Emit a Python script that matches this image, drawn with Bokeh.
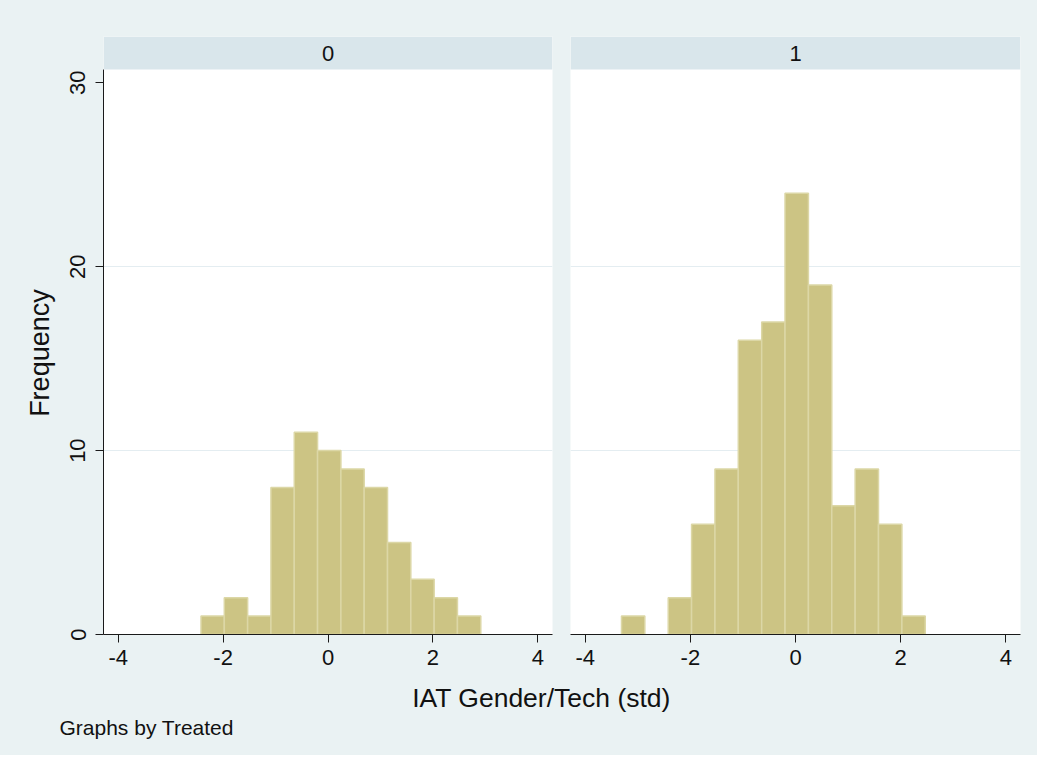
import math
from bokeh.plotting import figure
from bokeh.models import Range1d, BoxAnnotation, Label, FixedTicker, Grid
from bokeh.layouts import column, row
from bokeh.embed import file_html
from bokeh.resources import INLINE

# ---- data ----
bin_edges = [-3.31, -2.866, -2.421, -1.977, -1.532, -1.088, -0.643, -0.199,
             0.246, 0.690, 1.135, 1.579, 2.024, 2.468, 2.913]
counts_treated0 = [0, 0, 1, 2, 1, 8, 11, 10, 9, 8, 5, 3, 2, 1]
counts_treated1 = [1, 0, 2, 6, 9, 16, 17, 24, 19, 7, 9, 6, 1, 0]
panel_labels = ["0", "1"]
x_ticks = [-4, -2, 0, 2, 4]
x_tick_labels = ["-4", "-2", "0", "2", "4"]
y_ticks = [0, 10, 20, 30]
grid_ticks = [10, 20]
x_title = "IAT Gender/Tech (std)"
y_title = "Frequency"
note = "Graphs by Treated"

# ---- styles ----
BG = "#EAF2F3"
STRIP = "#D9E6EB"
GRID = "#E4EDF1"
BAR_FILL = "#CCC484"
BAR_LINE = "#DCD7A6"
FONT = "Liberation Sans"
AXIS_COLOR = "#1a1a1a"
TXT = "#111111"

Y_TOP = 32.52
PLOT_TOP = 30.72
X_RANGE = (-4.28, 4.28)
FRAME_H = 598
BORDER_TOP = 36
BORDER_BOTTOM = 46
PANEL_H = BORDER_TOP + FRAME_H + BORDER_BOTTOM
TITLE_W = 56


def make_panel(counts, label, show_y, frame_w, border_l, border_r):
    p = figure(frame_width=frame_w, frame_height=FRAME_H,
               x_range=Range1d(*X_RANGE), y_range=Range1d(0, Y_TOP),
               output_backend="svg", toolbar_location=None,
               min_border_left=border_l, min_border_right=border_r,
               min_border_top=BORDER_TOP, min_border_bottom=BORDER_BOTTOM,
               y_axis_location="left" if show_y else None)
    p.background_fill_color = "white"
    p.border_fill_color = BG
    p.outline_line_color = None
    p.grid.visible = False
    p.add_layout(Grid(dimension=1, ticker=FixedTicker(ticks=grid_ticks),
                      grid_line_color=GRID, grid_line_width=1.2))

    lefts, rights, tops = [], [], []
    for i, c in enumerate(counts):
        if c > 0:
            lefts.append(bin_edges[i])
            rights.append(bin_edges[i + 1])
            tops.append(c)
    p.quad(left=lefts, right=rights, top=tops, bottom=0,
           fill_color=BAR_FILL, line_color=BAR_LINE, line_width=1.5)

    p.add_layout(BoxAnnotation(bottom=PLOT_TOP, fill_color=STRIP, fill_alpha=1.0,
                               line_color=None))
    p.add_layout(Label(x=0, y=(PLOT_TOP + Y_TOP) / 2, text=label,
                       text_align="center", text_baseline="middle",
                       text_font=FONT, text_font_size="22px", text_color=TXT))

    xa = p.xaxis[0]
    xa.ticker = FixedTicker(ticks=x_ticks)
    xa.major_label_overrides = {t: s for t, s in zip(x_ticks, x_tick_labels)}
    xa.major_tick_in = 0
    xa.major_tick_out = 8
    xa.minor_tick_line_color = None
    xa.major_label_standoff = 7
    xa.major_label_text_font = FONT
    xa.major_label_text_font_size = "22px"
    xa.major_label_text_color = TXT
    xa.axis_line_color = AXIS_COLOR
    xa.major_tick_line_color = AXIS_COLOR

    if show_y:
        ya = p.yaxis[0]
        ya.ticker = FixedTicker(ticks=y_ticks)
        ya.bounds = (0, PLOT_TOP)
        ya.major_tick_in = 0
        ya.major_tick_out = 8
        ya.minor_tick_line_color = None
        ya.major_label_orientation = "vertical"
        ya.major_label_standoff = 10
        ya.major_label_text_font = FONT
        ya.major_label_text_font_size = "22px"
        ya.major_label_text_color = TXT
        ya.axis_line_color = AXIS_COLOR
        ya.major_tick_line_color = AXIS_COLOR
    return p


def text_panel(w, h):
    f = figure(width=w, height=h, x_range=Range1d(0, w), y_range=Range1d(0, h),
               min_border=0, toolbar_location=None, output_backend="svg",
               x_axis_location=None, y_axis_location=None)
    f.background_fill_color = BG
    f.border_fill_color = BG
    f.outline_line_color = None
    f.grid.visible = False
    return f


# y-axis title column (centred on the plot region below the strip)
py = text_panel(TITLE_W, PANEL_H)
py.add_layout(Label(x=39, y=320, text=y_title,
                    angle=math.pi / 2, text_align="center", text_baseline="middle",
                    text_font=FONT, text_font_size="27px", text_color=TXT))

p0 = make_panel(counts_treated0, panel_labels[0], True, 449, 103 - TITLE_W, 9)
p1 = make_panel(counts_treated1, panel_labels[1], False, 450, 9, 17)

pb = text_panel(1037, 75)
pb.add_layout(Label(x=541, y=58, text=x_title, text_align="center",
                    text_baseline="middle", text_font=FONT,
                    text_font_size="26.5px", text_color=TXT))
pb.add_layout(Label(x=59, y=28, text=note, text_align="left",
                    text_baseline="middle", text_font=FONT,
                    text_font_size="21px", text_color=TXT))

top_row = row(py, p0, p1, spacing=0, styles={"background-color": BG})
layout = column(top_row, pb, spacing=0, styles={"background-color": BG})

with open("out.html", "w") as f:
    f.write(file_html(layout, INLINE, title="Histogram by Treated"))
